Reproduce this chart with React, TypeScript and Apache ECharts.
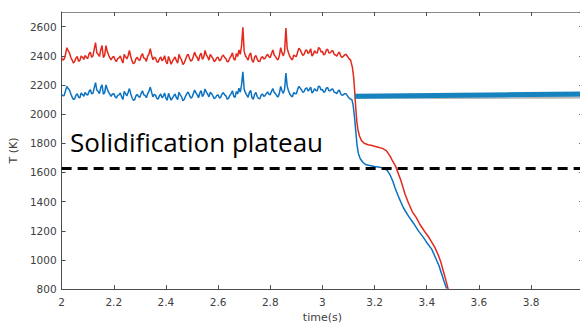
import React, { useEffect, useRef } from "react";
import * as echarts from "echarts";

// Sampled plateau region (t = 2.000 .. 3.100 s, every 0.005 s)
const plateauStart = 2.0;
const plateauStep = 0.005;
const redPlateau = [
  2385, 2370, 2378, 2410, 2455, 2435, 2420, 2390, 2372, 2350,
  2360, 2385, 2395, 2362, 2368, 2398, 2390, 2375, 2402, 2388,
  2380, 2412, 2425, 2390, 2398, 2445, 2490, 2420, 2410, 2395,
  2440, 2470, 2388, 2402, 2470, 2430, 2405, 2385, 2372, 2390,
  2395, 2372, 2360, 2380, 2385, 2398, 2372, 2350, 2410, 2392,
  2378, 2400, 2436, 2395, 2365, 2345, 2352, 2380, 2390, 2372,
  2368, 2398, 2415, 2385, 2380, 2362, 2398, 2412, 2448, 2405,
  2372, 2390, 2384, 2360, 2355, 2378, 2392, 2365, 2376, 2400,
  2360, 2345, 2395, 2370, 2342, 2362, 2378, 2392, 2366, 2350,
  2410, 2385, 2372, 2340, 2350, 2375, 2398, 2410, 2385, 2362,
  2370, 2395, 2425, 2400, 2388, 2365, 2402, 2418, 2375, 2390,
  2436, 2405, 2392, 2370, 2410, 2395, 2382, 2360, 2368, 2385,
  2390, 2365, 2372, 2395, 2405, 2388, 2380, 2358, 2362, 2385,
  2398, 2420, 2378, 2370, 2415, 2395, 2440, 2410, 2470, 2595,
  2430, 2400, 2385, 2370, 2405, 2420, 2368, 2355, 2390, 2402,
  2376, 2362, 2360, 2385, 2395, 2378, 2382, 2400, 2410, 2392,
  2388, 2415, 2440, 2405, 2395, 2378, 2372, 2400, 2455, 2420,
  2398, 2430, 2590, 2450, 2420, 2395, 2380, 2372, 2405, 2398,
  2395, 2425, 2452, 2440, 2420, 2402, 2410, 2435, 2440, 2415,
  2425, 2448, 2398, 2410, 2435, 2420, 2418, 2455, 2450, 2425,
  2430, 2405, 2412, 2440, 2445, 2418, 2420, 2432, 2435, 2410,
  2405, 2398, 2415, 2425, 2400, 2388, 2395, 2405, 2410, 2398,
  2385,
];
const bluePlateau = [
  2135, 2125, 2128, 2160, 2190, 2175, 2165, 2140, 2118, 2100,
  2105, 2130, 2140, 2115, 2112, 2145, 2135, 2122, 2148, 2136,
  2130, 2155, 2168, 2140, 2142, 2180, 2215, 2165, 2155, 2140,
  2182, 2200, 2136, 2148, 2200, 2172, 2150, 2135, 2122, 2138,
  2140, 2120, 2110, 2128, 2132, 2145, 2118, 2100, 2155, 2140,
  2125, 2148, 2175, 2140, 2112, 2095, 2098, 2125, 2135, 2120,
  2115, 2142, 2160, 2132, 2128, 2112, 2140, 2158, 2185, 2150,
  2118, 2135, 2130, 2108, 2102, 2125, 2138, 2112, 2122, 2145,
  2108, 2095, 2142, 2118, 2095, 2110, 2125, 2138, 2112, 2100,
  2150, 2132, 2118, 2092, 2100, 2122, 2140, 2152, 2130, 2110,
  2115, 2140, 2165, 2145, 2132, 2112, 2145, 2160, 2120, 2135,
  2172, 2150, 2136, 2118, 2150, 2140, 2125, 2105, 2112, 2128,
  2132, 2110, 2115, 2138, 2148, 2132, 2125, 2102, 2108, 2128,
  2140, 2160, 2122, 2115, 2155, 2138, 2178, 2150, 2200, 2290,
  2170, 2145, 2130, 2115, 2148, 2162, 2112, 2102, 2135, 2148,
  2120, 2108, 2105, 2130, 2138, 2122, 2126, 2142, 2152, 2136,
  2132, 2158, 2175, 2148, 2140, 2125, 2118, 2142, 2190, 2160,
  2142, 2170, 2282, 2190, 2160, 2138, 2125, 2118, 2148, 2140,
  2140, 2168, 2190, 2178, 2165, 2148, 2155, 2175, 2180, 2158,
  2168, 2185, 2145, 2155, 2175, 2162, 2160, 2192, 2188, 2165,
  2170, 2148, 2155, 2178, 2182, 2160, 2160, 2170, 2172, 2150,
  2148, 2140, 2158, 2165, 2140, 2128, 2132, 2140, 2140, 2128,
  2115,
];

// Cooling segment: [time (s), T (K)]
const redCooling = [
  [3.108, 2370], [3.115, 2320], [3.12, 2250], [3.124, 2150], [3.128, 2040],
  [3.132, 1950], [3.136, 1895], [3.142, 1850], [3.15, 1818], [3.16, 1800],
  [3.175, 1790], [3.19, 1784], [3.21, 1775], [3.23, 1765], [3.245, 1750],
  [3.26, 1710], [3.27, 1675], [3.28, 1645], [3.3, 1550], [3.317, 1450],
  [3.33, 1390], [3.345, 1330], [3.36, 1290], [3.374, 1243], [3.39, 1200],
  [3.41, 1150], [3.431, 1086], [3.445, 1030], [3.455, 980], [3.463, 928],
  [3.472, 870], [3.48, 815], [3.482, 800],
];
const blueCooling = [
  [3.105, 2105], [3.113, 2099], [3.118, 2060], [3.124, 1964], [3.128, 1880],
  [3.133, 1784], [3.138, 1730], [3.145, 1694], [3.155, 1670], [3.165, 1655],
  [3.177, 1649], [3.2, 1640], [3.22, 1635], [3.24, 1626], [3.25, 1610],
  [3.26, 1581], [3.27, 1540], [3.279, 1491], [3.295, 1420], [3.311, 1356],
  [3.33, 1300], [3.35, 1250], [3.368, 1199], [3.385, 1160], [3.4, 1120],
  [3.419, 1074], [3.435, 1010], [3.447, 960], [3.457, 905], [3.467, 850],
  [3.476, 804], [3.477, 800],
];

const plateauLevel = 1632;
const annotationLine = [[3.125, 2122], [4.0, 2138]];
const annotationText = "Solidification plateau";
const xLabel = "time(s)";
const yLabel = "T (K)";

function buildSeries(plateau: number[], cooling: number[][]) {
  const pts: number[][] = plateau.map((v, i) => [
    +(plateauStart + i * plateauStep).toFixed(3),
    v,
  ]);
  return pts.concat(cooling);
}

export default function App() {
  const ref = useRef<HTMLDivElement>(null);
  useEffect(() => {
    if (!ref.current) return;
    const chart = echarts.init(ref.current, null, { renderer: "svg" });
    const axisColor = "#4d4d4d";
    const labelStyle = {
      color: "#404040",
      fontFamily: "DejaVu Sans",
      fontSize: 10.5,
    };
    chart.setOption({
      animation: false,
      backgroundColor: "#ffffff",
      grid: { left: 58.7, right: 16.8, top: 12, bottom: 35.7 },
      xAxis: [
        {
          type: "value",
          min: 2,
          max: 4,
          interval: 0.2,
          name: xLabel,
          nameLocation: "middle",
          nameGap: 21,
          nameTextStyle: { ...labelStyle, fontSize: 11 },
          axisLine: { show: true, lineStyle: { color: axisColor, width: 1 } },
          axisTick: { show: true, inside: true, length: 4, lineStyle: { color: axisColor } },
          axisLabel: { ...labelStyle, margin: 7, formatter: (v: number) => String(+v.toFixed(1)) },
          splitLine: { show: false },
        },
        {
          type: "value",
          position: "top",
          min: 2,
          max: 4,
          interval: 0.2,
          axisLine: { show: true, onZero: false, lineStyle: { color: "#8a8a8a", width: 1 } },
          axisTick: { show: true, inside: true, length: 4, lineStyle: { color: axisColor } },
          axisLabel: { show: false },
          splitLine: { show: false },
        },
      ],
      yAxis: [
        {
          type: "value",
          min: 800,
          max: 2700,
          interval: 200,
          name: yLabel,
          nameLocation: "middle",
          nameGap: 36,
          nameRotate: 90,
          nameTextStyle: { ...labelStyle, fontSize: 11 },
          axisLine: { show: true, lineStyle: { color: axisColor, width: 1 } },
          axisTick: { show: true, inside: true, length: 4, lineStyle: { color: axisColor } },
          axisLabel: {
            ...labelStyle,
            margin: 5,
            showMaxLabel: false,
            formatter: (v: number) => (v > 2600 ? "" : String(v)),
          },
          splitLine: { show: false },
        },
        {
          type: "value",
          position: "right",
          min: 800,
          max: 2700,
          interval: 200,
          axisLine: { show: true, onZero: false, lineStyle: { color: axisColor, width: 1 } },
          axisTick: { show: true, inside: true, length: 4, lineStyle: { color: axisColor } },
          axisLabel: { show: false },
          splitLine: { show: false },
        },
      ],
      series: [
        {
          type: "line",
          data: buildSeries(redPlateau, redCooling),
          showSymbol: false,
          symbol: "none",
          clip: true,
          lineStyle: { color: "#e3281c", width: 1.5 },
          z: 3,
        },
        {
          type: "line",
          data: buildSeries(bluePlateau, blueCooling),
          showSymbol: false,
          symbol: "none",
          clip: true,
          lineStyle: { color: "#0a72c0", width: 1.5 },
          z: 3,
          markLine: {
            silent: true,
            symbol: "none",
            label: { show: false },
            data: [
              [
                { coord: annotationLine[0] },
                { coord: annotationLine[1] },
              ],
            ],
            lineStyle: {
              color: "#1583bf",
              width: 5,
              type: "solid",
              shadowColor: "rgba(0,0,0,0.35)",
              shadowBlur: 3,
              shadowOffsetY: 2,
            },
          },
        },
        {
          type: "line",
          data: [],
          markLine: {
            silent: true,
            symbol: "none",
            label: { show: false },
            data: [{ yAxis: plateauLevel }],
            lineStyle: { color: "#000000", width: 3, type: [10, 6] },
          },
          z: 4,
        },
      ],
      graphic: [
        {
          type: "text",
          x: 70,
          y: 142,
          z: 10,
          style: {
            text: annotationText,
            font: '26px "Open Sans"',
            fill: "#000000",
            verticalAlign: "middle",
          },
        },
      ],
    });
    return () => chart.dispose();
  }, []);
  return (
    <div
      style={{
        position: "fixed",
        left: 0,
        top: 0,
        width: 580,
        height: 328,
        overflow: "hidden",
        background: "#fff",
      }}
    >
      <div ref={ref} style={{ width: 600, height: 328 }} />
    </div>
  );
}
